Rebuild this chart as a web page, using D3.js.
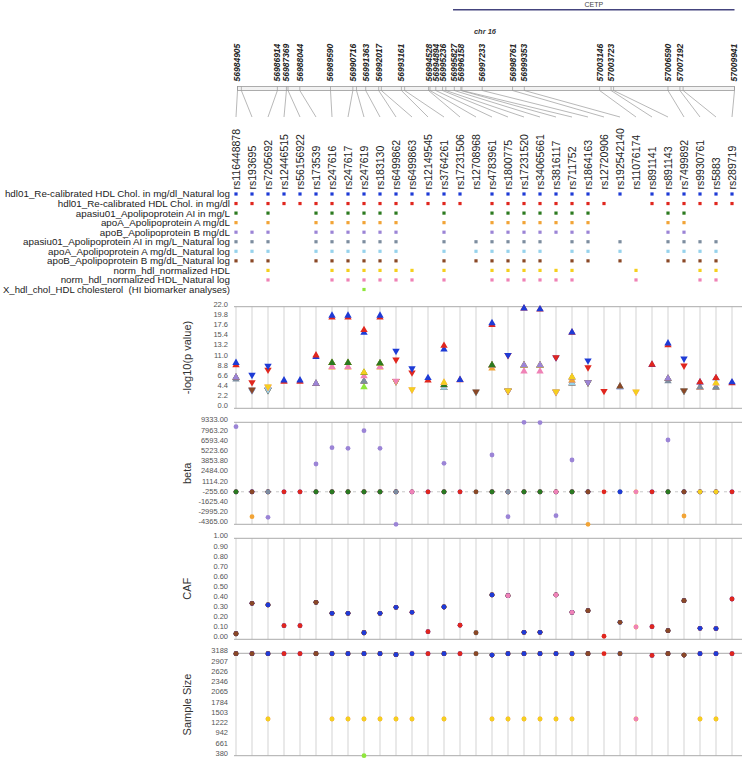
<!DOCTYPE html>
<html><head><meta charset="utf-8">
<script src="https://cdn.jsdelivr.net/npm/d3@7"></script>
<style>body{margin:0;background:#fff;}svg{display:block;font-family:"Liberation Sans",Arial,sans-serif;}text{white-space:pre;}</style>
</head><body><svg id="c" width="744" height="760"></svg>
<script>
// ---------------- DATA ----------------
const snps = ["rs116448878","rs193695","rs7205692","rs12446515","rs56156922","rs173539","rs247616","rs247617","rs247619","rs183130","rs6499862","rs6499863","rs12149545","rs3764261","rs17231506","rs12708968","rs4783961","rs1800775","rs17231520","rs34065661","rs3816117","rs711752","rs1864163","rs12720906","rs192542140","rs11076174","rs891141","rs891143","rs7499892","rs9930761","rs5883","rs289719"];
const positions = [56984905,56985100,56986914,56987369,56987450,56988044,56989590,56990716,56990900,56991363,56992017,56992150,56993161,56993324,56994528,56994600,56994894,56995236,56995400,56995827,56996158,56996211,56997233,56998761,56999353,57003146,57003723,57003850,57006590,57007192,57007353,57009941];
const chromosome = "chr 16";
const geneName = "CETP", geneStart = 56995762, geneEnd = 57017757;
// effect direction per SNP: 1 = up triangle, -1 = down triangle
const direction = [1,-1,-1,1,1,1,1,1,1,1,-1,-1,1,1,1,-1,1,-1,1,1,-1,1,-1,-1,1,-1,1,1,-1,1,1,1];
const phenotypes = ["hdl01_Re-calibrated HDL Chol. in mg/dl_Natural log","hdl01_Re-calibrated HDL Chol. in mg/dl","apasiu01_Apolipoprotein AI in mg/L","apoA_Apolipoprotein A mg/dL","apoB_Apolipoprotein B mg/dL","apasiu01_Apolipoprotein AI in mg/L_Natural log","apoA_Apolipoprotein A mg/dL_Natural log","apoB_Apolipoprotein B mg/dL_Natural log","norm_hdl_normalized HDL","norm_hdl_normalized HDL_Natural log","X_hdl_chol_HDL cholesterol  (HI biomarker analyses)"];
const n = null;
// -log10(p) per phenotype (null = not tested)
const pHdlLn   = [9.9,7.2,9.15,6.1,6.1,11.2,20.1,20.1,16.4,20.1,12.4,8.6,6.6,12.8,6.2,n,18.5,11.5,21.7,21.5,10.95,16.5,10.3,n,4.6,n,9.45,14.1,10.7,5.65,6.55,5.7];
const pHdl     = [9.4,5.6,8.3,5.8,5.8,11.5,19.7,19.7,17.0,19.7,10.5,7.7,6.1,13.6,6.15,n,18.1,11.45,21.65,21.45,11.0,16.45,8.8,3.7,n,n,9.5,13.7,9.2,5.7,6.6,5.5];
const pApoA1   = [6.7,n,3.9,n,n,5.35,9.9,9.9,7.75,9.8,5.85,n,n,5.1,n,n,9.4,3.75,9.35,9.35,3.5,6.75,5.55,n,n,n,n,6.45,3.75,n,n,n];
const pApoA    = [6.7,n,4.6,n,n,5.35,8.9,8.9,7.7,8.9,5.85,n,n,5.05,n,n,8.7,3.75,9.35,9.35,3.5,6.1,5.55,n,n,n,n,6.45,3.75,n,n,n];
const pApoB    = [6.75,3.95,3.95,n,n,5.4,9.85,9.85,5.85,9.75,5.85,n,n,5.05,n,n,9.35,3.75,9.4,9.4,3.5,6.05,5.6,n,n,n,n,6.5,3.75,n,n,n];
const pApoA1Ln = [6.3,3.85,3.95,n,n,5.35,9.85,9.85,5.9,9.75,5.85,n,n,4.45,n,3.5,9.35,3.75,9.35,9.35,n,5.45,5.55,n,4.75,n,n,5.9,3.75,4.6,4.6,n];
const pApoALn  = [6.7,3.8,4.0,n,n,5.35,9.85,9.85,5.85,9.75,5.85,n,n,4.5,n,3.5,9.35,3.75,9.35,9.35,n,5.5,5.55,n,4.75,n,n,6.45,3.75,4.55,4.55,n];
const pApoBLn  = [6.7,4.0,3.95,n,n,5.35,9.85,9.85,5.85,9.75,5.85,n,n,4.45,n,3.56,9.35,3.75,9.35,9.35,n,5.45,5.55,n,4.8,n,n,6.45,3.8,4.55,4.55,n];
const pNorm    = [n,n,4.65,n,n,n,9.85,9.85,7.8,9.75,5.85,4.06,n,5.6,n,n,9.35,3.8,9.35,9.35,3.56,6.8,n,n,n,3.56,n,n,n,4.55,5.5,n];
const pNormLn  = [n,n,4.6,n,n,n,9.0,9.0,7.0,9.0,5.9,4.0,n,5.55,n,n,9.35,3.75,8.06,8.06,3.5,6.75,n,n,n,3.5,n,n,n,4.55,5.45,n];
const pXHdl    = [n,n,n,n,n,n,n,n,4.65,n,n,n,n,n,n,n,n,n,n,n,n,n,n,n,n,n,n,n,n,n,n,n];
// beta per phenotype
const bHdlLn   = [0,0,0,0,0,0,0,0,0,0,0,0,0,0,0,n,0,0,0,0,0,0,0,n,0,n,0,0,0,0,0,0];
const bHdl     = [0,0,0,0,0,0,0,0,0,0,0,0,0,0,0,n,0,0,0,0,0,0,0,0,n,n,0,0,0,0,0,0];
const bApoA1   = [0,n,0,n,n,0,0,0,0,0,0,n,n,0,n,n,0,0,0,0,0,0,0,n,n,n,n,0,0,n,n,n];
const bApoA    = [0,-3344,0,n,n,0,0,0,0,0,0,n,n,0,n,n,0,0,0,0,0,0,-4365,n,n,n,n,0,-3250,n,n,n];
const bApoB    = [8742,0,-3425,n,n,3733,5922,5842,8205,5842,-4365,n,n,3827,n,n,4942,-3344,9333,9290,-3210,4270,0,n,n,n,n,6957,0,n,n,n];
const bApoA1Ln = [0,0,0,n,n,0,0,0,0,0,0,n,n,0,n,0,0,0,0,0,n,0,0,n,0,n,n,0,0,0,0,n];
const bApoALn  = [0,0,0,n,n,0,0,0,0,0,0,n,n,0,n,0,0,0,0,0,n,0,0,n,0,n,n,0,0,0,0,n];
const bApoBLn  = [0,0,0,n,n,0,0,0,0,0,0,n,n,0,n,0,0,0,0,0,n,0,0,n,0,n,n,0,0,0,0,n];
const bNorm    = [n,n,0,n,n,n,0,0,0,0,0,0,n,0,n,n,0,0,0,0,0,0,n,n,n,0,n,n,n,0,0,n];
const bNormLn  = [n,n,0,n,n,n,0,0,0,0,0,0,n,0,n,n,0,0,0,0,0,0,n,n,n,0,n,n,n,0,0,n];
const bXHdl    = [n,n,n,n,n,n,n,n,0,n,n,n,n,n,n,n,n,n,n,n,n,n,n,n,n,n,n,n,n,n,n,n];
// coded allele frequency per SNP
const caf = [0.055,0.356,0.34,0.135,0.135,0.366,0.257,0.257,0.065,0.257,0.317,0.267,0.075,0.32,0.139,0.065,0.439,0.432,0.069,0.069,0.439,0.267,0.283,0.03,0.168,0.122,0.125,0.085,0.382,0.109,0.106,0.399];
// sample sizes
const sizeMain = [3177,3177,3177,3177,3177,3177,3177,3177,3177,3177,3150,3177,3177,3177,3177,3177,3140,3177,3177,3177,3177,3177,3177,3177,3177,n,3130,3177,3140,3177,3177,3177];
const sizeNorm = [n,n,1386,n,n,n,1386,1386,1386,1386,1386,1386,n,1386,n,n,1386,1386,1386,1386,1386,1386,n,n,n,1386,n,n,n,1386,1386,n];
const sizeX    = [n,n,n,n,n,n,n,n,380,n,n,n,n,n,n,n,n,n,n,n,n,n,n,n,n,n,n,n,n,n,n,n];
// phenotype whose dot is drawn on top at each SNP
const betaTop = [2,7,5,1,1,2,2,2,2,2,5,9,1,2,1,7,2,5,2,2,9,2,7,1,0,9,1,2,7,8,8,1];
const cafTop  = [7,7,0,1,1,7,0,0,0,0,0,0,1,0,1,7,0,9,0,0,9,9,7,1,7,9,1,7,7,0,0,1];
const sizeTop = [7,7,0,1,1,7,0,0,0,0,0,0,1,0,1,7,0,0,0,0,0,0,7,1,7,9,1,7,7,0,0,1];
// tick labels
const pTicks = ["0.0","2.2","4.4","6.6","8.8","11.0","13.2","15.4","17.6","19.8","22.0"];
const betaTicks = ["-4365.00","-2995.20","-1625.40","-255.60","1114.20","2484.00","3853.80","5223.60","6593.40","7963.20","9333.00"];
const cafTicks = ["0.00","0.10","0.20","0.30","0.40","0.50","0.60","0.70","0.80","0.90","1.00"];
const sizeTicks = ["380","661","942","1222","1503","1784","2065","2346","2626","2907","3188"];

const pvals = [pHdlLn,pHdl,pApoA1,pApoA,pApoB,pApoA1Ln,pApoALn,pApoBLn,pNorm,pNormLn,pXHdl];
const betas = [bHdlLn,bHdl,bApoA1,bApoA,bApoB,bApoA1Ln,bApoALn,bApoBLn,bNorm,bNormLn,bXHdl];
const colors = ["#1e3bd6","#e0261e","#2b7a1f","#f2a436","#9b84d6","#7d8d9f","#96d2ec","#8a4826","#f5cf1e","#ef82b6","#8fe63c"];

// ---------------- DRAW ----------------
const svg = d3.select("#c");
const x = d3.scalePoint().domain(snps).range([236, 732]);
const gx = d3.scaleLinear().domain([d3.min(positions), d3.max(positions)]).range([237.5, 734.5]).clamp(true);

// gene
svg.append("line").attr("x1", gx(geneStart)).attr("x2", gx(geneEnd)).attr("y1", 9.7).attr("y2", 9.7)
  .attr("stroke", "#44447e").attr("stroke-width", 1.5);
svg.append("text").attr("x", (gx(geneStart)+gx(geneEnd))/2).attr("y", 5).attr("dy","0.35em")
  .attr("text-anchor","middle").attr("font-size", 7).attr("fill","#444").text(geneName);
svg.append("text").attr("x", 485).attr("y", 31).attr("dy","0.35em").attr("text-anchor","middle")
  .attr("font-size", 7.5).attr("font-weight","bold").attr("font-style","italic").attr("fill","#333").text(chromosome);

// position labels (skip overlapping)
let lastX = -100;
positions.forEach((p) => {
  const px = gx(p);
  if (px - lastX >= 6) {
    lastX = px;
    svg.append("text").attr("transform", `translate(${px},81.5) rotate(-90)`).attr("dy","0.35em")
      .attr("font-size", 8.5).attr("font-weight","bold").attr("font-style","italic").attr("fill","#222").text(p);
  }
});
// genome bar
svg.append("rect").attr("x", gx.range()[0]).attr("y", 86.5).attr("width", gx.range()[1]-gx.range()[0]).attr("height", 4)
  .attr("fill","#f2f2f2").attr("stroke","#9a9a9a").attr("stroke-width",0.8);
positions.forEach((p,i) => {
  svg.append("line").attr("x1", gx(p)).attr("x2", gx(p)).attr("y1", 86.5).attr("y2", 90.5).attr("stroke","#9a9a9a").attr("stroke-width",0.7);
  svg.append("line").attr("x1", gx(p)).attr("x2", x(snps[i])).attr("y1", 90.5).attr("y2", 117).attr("stroke","#9a9a9a").attr("stroke-width",0.7);
});
// snp labels
snps.forEach(s => {
  svg.append("text").attr("transform", `translate(${x(s)},189.5) rotate(-90)`).attr("dy","0.36em")
    .attr("font-size", 10.5).attr("fill","#222").text(s);
});
// legend rows
const rowY = i => 194 + i*9.55;
phenotypes.forEach((ph,i) => {
  const t = svg.append("text").attr("x", 230).attr("y", rowY(i)).attr("dy","0.35em").attr("text-anchor","end")
    .attr("font-size", 9.8).attr("fill","#222").text(ph);
  const w = t.node().getComputedTextLength();
  if (w > 227) t.attr("textLength", 227).attr("lengthAdjust", "spacingAndGlyphs");
  pvals[i].forEach((v,j) => {
    if (v !== null) svg.append("rect").attr("x", x(snps[j])-1.6).attr("y", rowY(i)-1.6).attr("width",3.2).attr("height",3.2).attr("fill", colors[i]);
  });
});

// panels
const panels = [
  {top:306.7, bottom:408.3, ticks:pTicks, title:"-log10(p value)"},
  {top:422.3, bottom:524.3, ticks:betaTicks, title:"beta"},
  {top:538.3, bottom:639.3, ticks:cafTicks, title:"CAF"},
  {top:653.3, bottom:755.7, ticks:sizeTicks, title:"Sample Size"}
];
panels.forEach(pn => {
  const vals = pn.ticks.map(Number);
  pn.y = d3.scaleLinear().domain([vals[0], vals[vals.length-1]]).range([pn.bottom, pn.top]);
  const g = svg.append("g");
  snps.forEach(s => g.append("line").attr("x1", x(s)).attr("x2", x(s)).attr("y1", pn.top).attr("y2", pn.bottom)
    .attr("stroke","#e4e4e4").attr("stroke-width",1.6));
  [pn.top, pn.bottom].forEach(yy => g.append("line").attr("x1",234).attr("x2",742).attr("y1",yy).attr("y2",yy)
    .attr("stroke","#ababab").attr("stroke-width",1));
  pn.ticks.forEach((t,k) => g.append("text").attr("x",228).attr("y", pn.y(vals[k]) - 2.5).attr("dy","0.35em")
    .attr("text-anchor","end").attr("font-size",7.5).attr("fill","#555").text(t));
  g.append("text").attr("transform", `translate(187,${(pn.top+pn.bottom)/2}) rotate(-90)`).attr("dy","0.35em")
    .attr("text-anchor","middle").attr("font-size",11).attr("fill","#333").text(pn.title);
});

// p-value triangles
const pY = panels[0].y;
snps.forEach((s,j) => {
  const pts = [];
  pvals.forEach((arr,i) => { if (arr[j] !== null) pts.push({i, v: arr[j]}); });
  pts.sort((a,b) => a.v - b.v || a.i - b.i);
  const cx = x(s), d = direction[j];
  pts.forEach(p => {
    const cy = pY(p.v);
    const path = d > 0
      ? `M${cx},${cy-4.1}L${cx+3.7},${cy+2.3}L${cx-3.7},${cy+2.3}Z`
      : `M${cx},${cy+4.1}L${cx+3.7},${cy-2.3}L${cx-3.7},${cy-2.3}Z`;
    svg.append("path").attr("d", path).attr("fill", colors[p.i]);
  });
});

// beta zero line
const bY = panels[1].y;
svg.append("line").attr("x1",234).attr("x2",742).attr("y1",bY(0)).attr("y2",bY(0))
  .attr("stroke","#c8c8c8").attr("stroke-dasharray","3,4").attr("stroke-width",1);

function drawDots(yScale, valueOf, topArr) {
  snps.forEach((s,j) => {
    const order = [];
    for (let i = phenotypes.length-1; i >= 0; i--) if (i !== topArr[j]) order.push(i);
    order.push(topArr[j]);
    order.forEach(i => {
      const v = valueOf(i,j);
      if (v === null || v === undefined) return;
      svg.append("circle").attr("cx", x(s)).attr("cy", yScale(v)).attr("r", 2.4).attr("fill", colors[i]);
    });
  });
}
drawDots(bY, (i,j) => betas[i][j], betaTop);
drawDots(panels[2].y, (i,j) => pvals[i][j] !== null ? caf[j] : null, cafTop);
drawDots(panels[3].y, (i,j) => {
  if (pvals[i][j] === null) return null;
  if (i <= 7) return sizeMain[j];
  if (i <= 9) return sizeNorm[j];
  return sizeX[j];
}, sizeTop);
</script>
</body></html>
